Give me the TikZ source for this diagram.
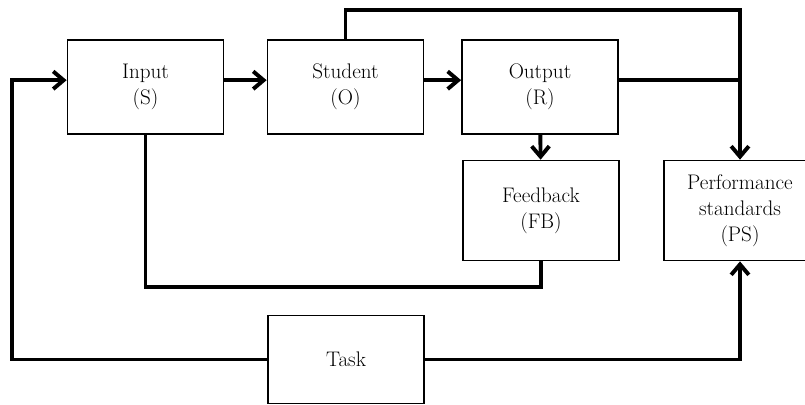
\documentclass[tikz,border=0pt]{standalone}
\usetikzlibrary{arrows.meta}
\begin{document}
\begin{tikzpicture}[x=0.025cm, y=-0.025cm,
  box/.style={draw, line width=1.2pt, align=center, minimum width=3.9cm, minimum height=2.35cm, font=\fontsize{15}{18.5}\selectfont},
  flow/.style={line width=2.8pt},
  tip/.style={-{Straight Barb[length=2.6mm, width=4.4mm]}}]
\useasboundingbox (0,0) rectangle (805,404);
\clip (0,0) rectangle (805,404);
\node[box] (in) at (145.5,87) {Input\\(S)};
\node[box] (stu) at (345.5,87) {Student\\(O)};
\node[box] (out) at (540,87) {Output\\(R)};
\node[box, minimum height=2.5cm] (fb) at (541,210.5) {Feedback\\(FB)};
\node[box, minimum width=3.8cm, minimum height=2.5cm] (ps) at (740,210.5) {Performance\\standards\\(PS)};
\node[box, minimum height=2.2cm] (task) at (346,359.5) {Task};
\coordinate (tr) at (740,10);
\coordinate (lf) at (12,357);
\coordinate (bt) at (541,287);
\coordinate (oe) at ([yshift=0.17cm]out.east);
\draw[flow,tip] ([yshift=0.17cm]in.east) -- ([yshift=0.17cm]stu.west);
\draw[flow,tip] ([yshift=0.17cm]stu.east) -- ([yshift=0.17cm]out.west);
\draw[flow,tip] (stu.north) |- (tr) -- (tr |- ps.north);
\draw[flow] (oe) -- (oe -| tr);
\draw[flow,tip] (out) -- (fb);
\draw[flow] (fb.south) -- (bt) -| (in.south);
\draw[flow,tip] (task.west) -- (task.west -| lf) |- ([yshift=0.17cm]in.west);
\draw[flow,tip] (task.east) -| (ps.south);
\end{tikzpicture}
\end{document}
